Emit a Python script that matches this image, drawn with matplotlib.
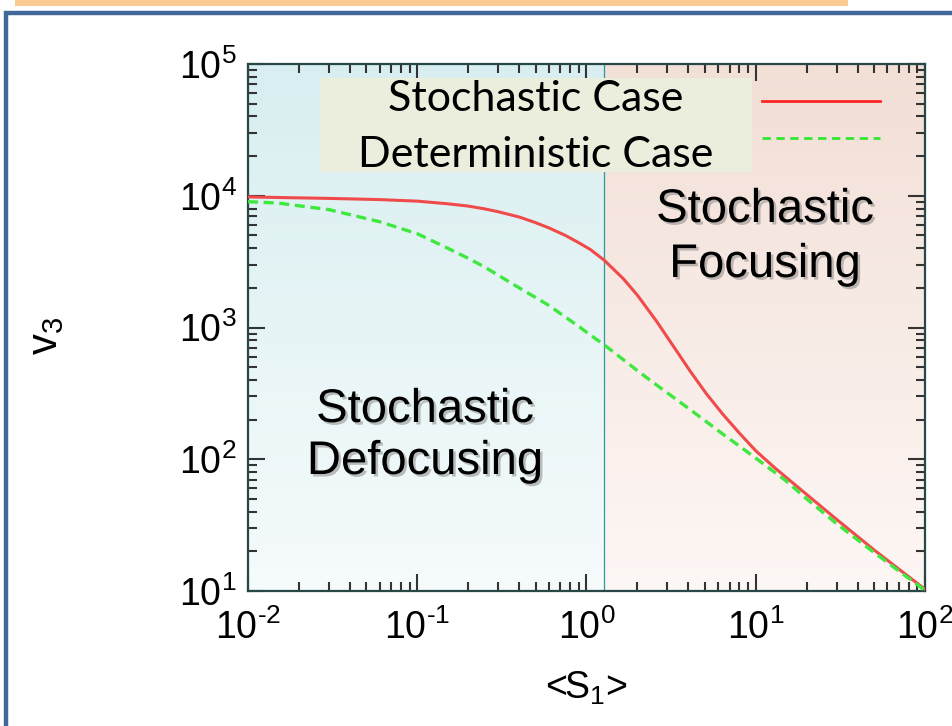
import matplotlib
matplotlib.use('Agg')
import matplotlib.pyplot as plt
import matplotlib.patheffects as pe
import numpy as np
from matplotlib.patches import Rectangle
from matplotlib.lines import Line2D
from matplotlib.ticker import LogLocator, FuncFormatter, NullFormatter

plt.rcParams['font.family'] = ['Liberation Sans', 'DejaVu Sans']
plt.rcParams['mathtext.default'] = 'regular'

# mean S1 values and v3 for the two cases
s1 = [0.01, 0.015, 0.03, 0.06, 0.1, 0.15, 0.2, 0.25, 0.3, 0.4, 0.5, 0.6, 0.75, 0.9,
      1.05, 1.27, 1.65, 2.0, 2.6, 3.3, 4.1, 5.1, 6.4, 8.0, 10, 12.7, 15, 20, 30, 50, 100]
v3_stochastic = [9800, 9700, 9550, 9350, 9100, 8700, 8350, 7950, 7570, 6900, 6250, 5700, 5000, 4400,
                 3920, 3250, 2345, 1757, 1110, 705, 466, 315, 219, 158, 116, 88, 73.5, 54, 35, 20.5, 10.3]
v3_deterministic = [9020, 8800, 7850, 6350, 5150, 4020, 3350, 2880, 2500, 2000, 1690, 1470, 1200, 1020,
                    880, 740, 570, 470, 365, 292, 238, 193, 155, 126, 102, 81, 69, 50, 32.5, 19.6, 10.1]

s1_split = 1.27
xlims = (1e-2, 1e2)
ylims = (1e1, 1e5)
legend_labels = ['Stochastic Case', 'Deterministic Case']
region_left = ['Stochastic', 'Defocusing']
region_right = ['Stochastic', 'Focusing']

W, H = 953, 726
fig = plt.figure(figsize=(W / 100, H / 100), dpi=100)
fig.patch.set_facecolor('white')

def fx(px):
    return px / W

def fy(py):
    return 1 - py / H

# slide decorations: orange bar and blue frame
fig.add_artist(Rectangle((fx(15), fy(6)), fx(848) - fx(15), fy(0) - fy(6),
                         transform=fig.transFigure, facecolor='#fdca94', edgecolor='none'))
fig.add_artist(Rectangle((fx(6), fy(1000)), 2.0, fy(13) - fy(1000),
                         transform=fig.transFigure, facecolor='none',
                         edgecolor='#416899', linewidth=3.2))

ax = fig.add_axes([fx(248), fy(591), fx(925) - fx(248), fy(64) - fy(591)])
ax.set_xscale('log')
ax.set_yscale('log')

# gradient backgrounds in axes coordinates
split = (np.log10(s1_split) - np.log10(xlims[0])) / (np.log10(xlims[1]) - np.log10(xlims[0]))
grad = np.linspace(0, 1, 256).reshape(-1, 1)

def gradient(top, bottom):
    top = np.array(matplotlib.colors.to_rgb(top))
    bottom = np.array(matplotlib.colors.to_rgb(bottom))
    return (top[None, None, :] * (1 - grad[:, :, None]) + bottom[None, None, :] * grad[:, :, None])

ax.imshow(gradient('#d8eef0', '#f6fbfc'), extent=[0, split, 0, 1], transform=ax.transAxes,
          aspect='auto', zorder=0, interpolation='bilinear')
ax.imshow(gradient('#f2dfd6', '#fdf7f5'), extent=[split, 1, 0, 1], transform=ax.transAxes,
          aspect='auto', zorder=0, interpolation='bilinear')
ax.set_xlim(*xlims)
ax.set_ylim(*ylims)
ax.axvline(s1_split, color='#2a9a9c', linewidth=0.9, zorder=1)

ax.plot(s1, v3_stochastic, color='#f04a4a', linewidth=2.2, zorder=3)
ax.plot(s1, v3_deterministic, color='#3fe83f', linewidth=2.4, linestyle=(0, (3, 1.7)), zorder=4)

# ticks
fmt = FuncFormatter(lambda v, p: r'10$^{%s}$' % str(int(round(np.log10(v)))).replace('-', '\u2010'))
for axis in (ax.xaxis, ax.yaxis):
    axis.set_major_locator(LogLocator(base=10, numticks=10))
    axis.set_minor_locator(LogLocator(base=10, subs=np.arange(2, 10), numticks=10))
    axis.set_major_formatter(fmt)
    axis.set_minor_formatter(NullFormatter())
ax.tick_params(which='both', direction='in', top=True, right=True, color='#333333')
ax.tick_params(which='major', length=12, width=1.5, labelsize=27)
ax.tick_params(which='minor', length=6.5, width=1.5)
ax.tick_params(axis='x', which='major', pad=13)
ax.tick_params(axis='y', which='major', pad=8)
for sp in ax.spines.values():
    sp.set_color('#284848')
    sp.set_linewidth(1.6)

fig.text(fx(586), fy(688), r'<S$_1$>', fontsize=27, ha='center', va='center')
fig.text(fx(46), fy(336), r'v$_3$', fontsize=30, ha='center', va='center', rotation=90)

# legend drawn by hand
fig.add_artist(Rectangle((fx(320), fy(172)), fx(752) - fx(320), fy(78) - fy(172),
                         transform=fig.transFigure, facecolor='#ebeedd', edgecolor='none', zorder=5))
fig.text(fx(536), fy(99), legend_labels[0], fontsize=31, family=['Lato', 'DejaVu Sans'],
         ha='center', va='center', zorder=6)
fig.text(fx(536), fy(155), legend_labels[1], fontsize=31, family=['Lato', 'DejaVu Sans'],
         ha='center', va='center', zorder=6)
fig.add_artist(Line2D([fx(762), fx(880)], [fy(101), fy(101)], transform=fig.transFigure,
                      color='#ff2424', linewidth=2.0, zorder=6))
fig.add_artist(Line2D([fx(762), fx(880)], [fy(138), fy(138)], transform=fig.transFigure,
                      color='#33e633', linewidth=2.0, linestyle=(0, (3, 2)), zorder=6))

shadow = [pe.withSimplePatchShadow(offset=(1.8, -1.8), shadow_rgbFace='#808080', alpha=0.5)]
for i, (yl, yr) in enumerate([(410, 210), (462, 265)]):
    fig.text(fx(425), fy(yl), region_left[i], fontsize=34, family=['Liberation Sans', 'DejaVu Sans'],
             ha='center', va='center', path_effects=shadow, zorder=6)
    fig.text(fx(765), fy(yr), region_right[i], fontsize=34, family=['Liberation Sans', 'DejaVu Sans'],
             ha='center', va='center', path_effects=shadow, zorder=6)

fig.savefig('out.png', dpi=100)
